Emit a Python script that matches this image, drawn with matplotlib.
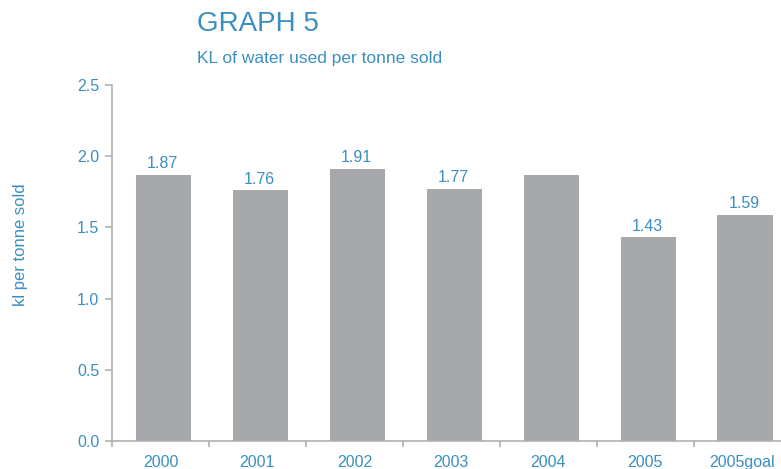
import numpy as np
import matplotlib.pyplot as plt

# Water use per tonne sold, by year
years = ['2000', '2001', '2002', '2003', '2004', '2005', '2005goal']
kl_per_tonne = [1.87, 1.76, 1.91, 1.77, 1.87, 1.43, 1.59]
value_labels = ['1.87', '1.76', '1.91', '1.77', '', '1.43', '1.59']
yticks = [0.0, 0.5, 1.0, 1.5, 2.0, 2.5]

blue = '#3a8fc0'
bar_grey = '#a7a8ab'
axis_grey = '#b0b0b0'

plt.rcParams['font.family'] = ['Liberation Sans', 'DejaVu Sans']

fig = plt.figure(figsize=(7.81, 4.69), dpi=100)
ax = fig.add_axes([112 / 781, 28 / 469, 1 - 112 / 781, 356 / 469])

x = np.arange(len(years))
bars = ax.bar(x, kl_per_tonne, width=0.57, color=bar_grey, zorder=2)
for b, lab in zip(bars, value_labels):
    if lab:
        ax.text(b.get_x() + b.get_width() / 2 - 0.01, b.get_height() + 0.025, lab,
                ha='center', va='bottom', color=blue, fontsize=11.5)

ax.set_xlim(-0.53, 6.37)
ax.set_ylim(0, 2.5)
ax.set_yticks(yticks)
ax.set_yticklabels([f'{v:.1f}' for v in yticks])
ax.set_xticks(x - 0.03)
ax.set_xticklabels(years)
ax.set_xticks(np.arange(-0.53, 6.4, 1.0), minor=True)

for side in ('top', 'right'):
    ax.spines[side].set_visible(False)
for side in ('left', 'bottom'):
    ax.spines[side].set_color(axis_grey)
    ax.spines[side].set_linewidth(1.2)

ax.tick_params(axis='y', colors=axis_grey, labelcolor=blue, labelsize=11.5,
               length=5, width=1.2, pad=4)
ax.tick_params(axis='x', which='major', length=0, labelcolor=blue,
               labelsize=11.5, pad=10)
ax.tick_params(axis='x', which='minor', length=4, width=1.2, colors=axis_grey)

ax.set_ylabel('kl per tonne sold', color=blue, fontsize=12)
ax.yaxis.set_label_coords(-84 / 669, (441 - 245) / 356)

fig.text(197 / 781, 1 - 24 / 469, 'GRAPH 5', color=blue, fontsize=20,
         ha='left', va='center')
fig.text(197 / 781, 1 - 58 / 469, 'KL of water used per tonne sold',
         color=blue, fontsize=12.5, ha='left', va='center')

fig.savefig('out.png', dpi=100)
